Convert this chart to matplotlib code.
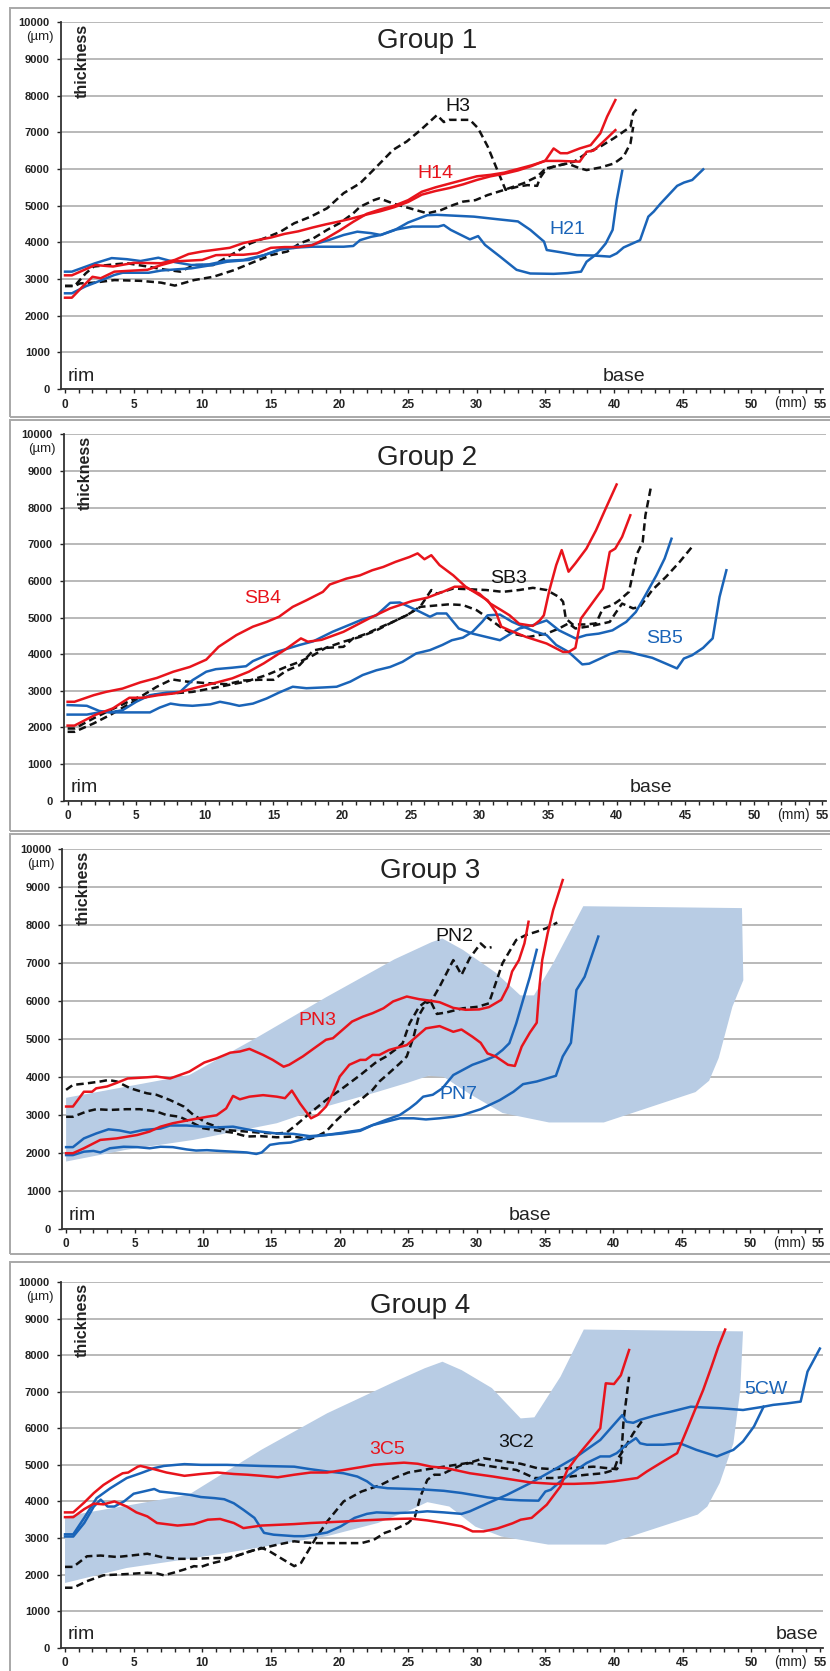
import matplotlib
matplotlib.use("Agg")
import matplotlib.pyplot as plt
from matplotlib.patches import Rectangle, Polygon

plt.rcParams['font.family'] = ['Liberation Sans', 'DejaVu Sans']

W, H = 830, 1671
RED = '#e8141c'
BLUE = '#1a64b8'
BLACK = '#111111'
SHADE = '#b8cce4'
GRID = '#a6a6a6'

# ---------------- tick labels ----------------
x_ticks = [0, 5, 10, 15, 20, 25, 30, 35, 40, 45, 50, 55]
y_ticks = [0, 1000, 2000, 3000, 4000, 5000, 6000, 7000, 8000, 9000, 10000]
titles = ['Group 1', 'Group 2', 'Group 3', 'Group 4']

# ---------------- Group 1 ----------------
g1_H14_a = [(0, 3100), (0.5, 3100), (2.2, 3380), (3.5, 3340), (5, 3440), (7, 3430), (8, 3520), (9, 3680),
            (10, 3750), (11, 3800), (12, 3850), (13, 3980), (14, 4060), (15, 4130), (16, 4230), (17, 4300),
            (18, 4400), (19, 4490), (20, 4570), (21, 4660), (22, 4760), (23, 4850), (24, 4960), (25, 5100),
            (26, 5300), (27, 5400), (28, 5480), (29, 5580), (30, 5700), (31, 5800), (32, 5870), (33, 5960),
            (34, 6080), (35, 6230), (35.6, 6560), (36.1, 6430), (36.6, 6430), (37.5, 6560), (38.3, 6650),
            (39, 6970), (39.5, 7430), (40.1, 7880)]
g1_H14_b = [(0, 2490), (0.5, 2490), (1.3, 2800), (2, 3060), (2.6, 3020), (3.6, 3200), (5, 3230), (6, 3250),
            (7, 3380), (8, 3480), (9, 3500), (10, 3520), (11, 3650), (12, 3660), (13, 3660), (14, 3700),
            (15, 3850), (16, 3870), (17, 3870), (18, 3920), (19, 4100), (20, 4320), (21, 4560), (22, 4780),
            (23, 4900), (24, 5000), (25, 5150), (26, 5380), (27, 5500), (28, 5600), (29, 5700), (30, 5800),
            (31, 5840), (32, 5900), (33, 6000), (34, 6100), (35, 6220), (36, 6220), (37.5, 6200), (38, 6470),
            (38.5, 6500), (39.1, 6700), (40.1, 7060)]
g1_H3_a = [(0, 2810), (0.7, 2810), (1.5, 3150), (2.1, 3340), (3.6, 3400), (4.5, 3430), (6, 3340), (7.2, 3260),
           (8.4, 3200), (9.4, 3380), (10.8, 3380), (12.3, 3700), (13.5, 3970), (14.8, 4150), (15.7, 4290),
           (16.7, 4520), (17.9, 4700), (19.1, 4930), (20.3, 5340), (21.5, 5610), (22.7, 6060), (23.9, 6520),
           (24.9, 6750), (25.9, 7060), (27.1, 7470), (27.6, 7280), (28, 7340), (29.5, 7340), (30.1, 7110),
           (30.8, 6610), (31.4, 6060), (32.1, 5430), (33, 5520), (33.7, 5560), (34.4, 5540), (34.6, 5750),
           (35.1, 6020), (36.1, 6110), (37.1, 6200), (38, 6430), (39, 6610), (40, 6840), (41.2, 7150),
           (41.4, 7520), (41.8, 7700)]
g1_H3_b = [(0, 2810), (0.7, 2810), (1.1, 2880), (2.1, 2900), (3.6, 2970), (5.5, 2950), (7, 2900), (8, 2820),
           (9.4, 2970), (10.8, 3060), (12.3, 3240), (13.8, 3470), (15, 3650), (16.2, 3750), (17.1, 3970),
           (18.1, 4110), (19.1, 4340), (20, 4520), (21, 4790), (21.5, 4970), (22.5, 5150), (22.9, 5200),
           (23.9, 5060), (25.1, 4930), (26.4, 4790), (27.4, 4880), (28.3, 5020), (29, 5110), (29.9, 5150),
           (30.8, 5290), (32, 5430), (32.7, 5520), (33.4, 5610), (34.4, 5790), (34.9, 5970), (35.6, 6060),
           (36.6, 6150), (37.5, 6020), (38, 5970), (39, 6040), (40, 6150), (40.7, 6340), (41.2, 6700),
           (41.4, 7150)]
g1_H21_a = [(0, 3200), (0.5, 3200), (2.2, 3430), (3.4, 3570), (4.5, 3540), (5.5, 3490), (6.8, 3580), (8, 3460),
            (9.2, 3380), (10.5, 3400), (11.8, 3500), (13, 3520), (14.5, 3650), (15.7, 3800), (17, 3860),
            (18, 3880), (19, 3880), (20.3, 3880), (21, 3900), (21.5, 4060), (22.3, 4150), (23, 4200),
            (24, 4330), (25, 4540), (26.4, 4740), (27.1, 4750), (29.8, 4700), (31.5, 4630), (33, 4570),
            (33.9, 4340), (34.9, 4020), (35.1, 3790), (36.1, 3730), (37.3, 3650), (38.5, 3640), (39.7, 3610),
            (40.2, 3700), (40.7, 3860), (41.9, 4060), (42.5, 4700), (42.9, 4840), (43.4, 5060), (44.6, 5540),
            (45.1, 5630), (45.7, 5700), (46.5, 5990)]
g1_H21_b = [(0, 2610), (0.5, 2610), (1.5, 2800), (2.2, 2900), (3.6, 3110), (4.2, 3170), (5, 3170), (6.1, 3170),
            (7, 3230), (8, 3260), (9.2, 3290), (10.7, 3380), (11.8, 3470), (13.4, 3520), (14.5, 3650),
            (15.7, 3820), (16.8, 3880), (18, 3930), (19.2, 4060), (20.3, 4200), (21.3, 4290), (22.3, 4250),
            (23, 4200), (24, 4340), (25.3, 4430), (27.2, 4430), (27.6, 4470), (28.1, 4340), (29.5, 4080),
            (30.1, 4170), (30.6, 3930), (31.7, 3610), (32.9, 3250), (33.9, 3150), (35.6, 3140), (36.6, 3160),
            (37.6, 3200), (38, 3470), (38.8, 3700), (39.4, 3970), (39.9, 4340), (40.2, 5150), (40.6, 5950)]

# ---------------- Group 2 ----------------
g2_SB4_a = [(0, 2700), (0.5, 2700), (1.9, 2880), (2.8, 2970), (4, 3060), (5.3, 3230), (6.5, 3350), (7.7, 3520),
            (8.9, 3650), (10.1, 3850), (11, 4200), (12.3, 4520), (13.5, 4750), (14.5, 4880), (15.4, 5020),
            (16.4, 5290), (17.4, 5470), (18.6, 5700), (19.1, 5900), (20.3, 6060), (21.3, 6150), (22.2, 6290),
            (23, 6380), (23.9, 6520), (24.9, 6650), (25.5, 6750), (26, 6590), (26.5, 6700), (27.1, 6430),
            (28.1, 6150), (29, 5840), (30, 5610), (30.6, 5470), (31.2, 5150), (31.6, 4750), (32.2, 4650),
            (33.4, 4470), (34.9, 4290), (36.1, 4060), (36.5, 4060), (37, 4170), (37.4, 4970), (38.2, 5380),
            (39, 5790), (39.5, 6790), (39.9, 6880), (40.4, 7200), (41, 7790)]
g2_SB4_b = [(0, 2050), (0.5, 2050), (2, 2340), (3.3, 2520), (4.5, 2810), (5.5, 2810), (6.6, 2880), (7.8, 2930),
            (9.3, 3080), (10.8, 3220), (12, 3340), (13.2, 3520), (14.3, 3750), (15.8, 4110), (17, 4430),
            (17.5, 4340), (18.5, 4390), (20.1, 4610), (22, 4980), (23.5, 5250), (25.1, 5450), (26.2, 5540),
            (27.4, 5710), (28.2, 5840), (28.9, 5840), (30, 5650), (30.8, 5380), (31.6, 5200), (32.2, 5060),
            (32.9, 4830), (33.9, 4770), (34.4, 4920), (34.7, 5060), (35.1, 5740), (35.6, 6430), (36, 6840),
            (36.5, 6250), (37, 6480), (37.8, 6880), (38.5, 7380), (39.2, 7970), (40, 8630)]
g2_SB3_a = [(0, 1970), (0.5, 1970), (1.9, 2250), (3.1, 2470), (4.3, 2680), (5.5, 2880), (6.5, 3110), (7.6, 3310),
            (8.7, 3250), (10.1, 3210), (11.6, 3180), (12.8, 3280), (14, 3300), (15, 3300), (15.9, 3540),
            (16.9, 3700), (17.9, 4100), (18.8, 4170), (20.1, 4200), (20.8, 4430), (21.8, 4560), (22.7, 4720),
            (23.7, 4880), (24.7, 5060), (25.7, 5300), (26.5, 5750), (26.9, 5650), (28.1, 5790), (29.3, 5770),
            (30.5, 5750), (31.7, 5700), (32.9, 5750), (33.9, 5810), (34.9, 5750), (35.8, 5560), (36.1, 5430),
            (36.3, 4970), (36.8, 4810), (37.8, 4810), (38.5, 4840), (39, 5250), (39.7, 5340), (40.2, 5470),
            (40.9, 5700), (41.5, 6750), (41.9, 7060), (42.1, 7790), (42.5, 8560)]
g2_SB3_b = [(0, 1880), (0.5, 1880), (1.9, 2110), (3.1, 2340), (4.3, 2600), (5.3, 2790), (6.5, 2900), (7.7, 2930),
            (9.1, 2970), (10.4, 3060), (11.6, 3150), (13, 3250), (14.5, 3430), (15.9, 3650), (16.9, 3790),
            (17.9, 3970), (18.8, 4170), (20.1, 4340), (21.3, 4470), (22.5, 4650), (23.7, 4880), (24.7, 5060),
            (25.7, 5290), (26.6, 5320), (27.8, 5360), (28.8, 5340), (29.8, 5200), (30.7, 4970), (31.5, 4750),
            (32.4, 4560), (33.6, 4470), (34.9, 4560), (35.8, 4700), (36.5, 4840), (37, 4700), (38.2, 4770),
            (39.5, 4880), (39.9, 5110), (40.4, 5380), (41.2, 5250), (41.7, 5290), (42.6, 5750), (43.6, 6110),
            (44.6, 6520), (45.5, 6930)]
g2_SB5_a = [(0, 2610), (1.4, 2590), (2.3, 2450), (3.1, 2410), (4, 2470), (5, 2700), (6, 2880), (7.2, 2950),
            (8.2, 2970), (9.1, 3290), (10.1, 3520), (10.8, 3590), (12, 3630), (13, 3670), (13.5, 3810),
            (14.5, 3970), (15.4, 4080), (16.9, 4250), (17.9, 4350), (19.3, 4610), (20.6, 4810), (21.5, 4950),
            (22.5, 5060), (23.5, 5400), (24.2, 5410), (24.9, 5290), (25.7, 5150), (26.4, 5020), (26.9, 5110),
            (27.6, 5110), (28.5, 4700), (29.5, 4560), (30.5, 4470), (31.5, 4380), (31.9, 4470), (32.9, 4700),
            (33.9, 4790), (34.9, 4920), (35.8, 4650), (37, 4430), (37.8, 4520), (38.7, 4560), (39.7, 4650),
            (40.7, 4880), (41.4, 5150), (42.1, 5610), (42.9, 6150), (43.5, 6610), (44, 7150)]
g2_SB5_b = [(0, 2350), (1.4, 2350), (2.6, 2430), (3.3, 2410), (6, 2410), (6.7, 2540), (7.5, 2650), (8.2, 2610),
            (9.1, 2590), (10.4, 2630), (11.1, 2700), (11.8, 2650), (12.5, 2590), (13.5, 2650), (14.5, 2790),
            (15.4, 2950), (16.4, 3110), (17.4, 3070), (18.6, 3090), (19.6, 3110), (20.6, 3250), (21.5, 3430),
            (22.5, 3560), (23.5, 3650), (24.4, 3790), (25.4, 4020), (26.4, 4110), (27.3, 4250), (28, 4380),
            (28.8, 4450), (29.5, 4610), (30.2, 4880), (30.6, 5060), (31.5, 5080), (32.4, 4880), (33.4, 4720),
            (34.1, 4610), (34.9, 4520), (35.6, 4250), (36.5, 4060), (37.5, 3720), (38, 3740), (38.7, 3860),
            (39.5, 4000), (40.2, 4080), (40.9, 4060), (41.6, 3990), (42.6, 3900), (43.6, 3740), (44.4, 3610),
            (44.9, 3880), (45.5, 3970), (46.3, 4170), (47, 4430), (47.5, 5560), (48, 6290)]

# ---------------- Group 3 ----------------
g3_range = [(0, 3450), (9, 4050), (10, 4250), (14, 5050), (19, 6100), (24, 7100), (26.7, 7550), (27.5, 7650),
            (29, 7350), (31.4, 6750), (33.2, 6150), (34.2, 6150), (35.6, 7000), (37.8, 8500), (49.4, 8450),
            (49.5, 6550), (48.7, 5850), (47.7, 4500), (47, 3900), (46, 3600), (39.3, 2800), (35.3, 2800),
            (31.9, 3050), (29.5, 3550), (27.6, 4000), (26.5, 4030), (25, 3850), (22.7, 3600), (19, 3220),
            (15.4, 2780), (12.9, 2600), (9.3, 2340), (4.4, 2080), (0, 1770)]
g3_PN3_a = [(0, 3220), (0.5, 3220), (1.3, 3610), (1.9, 3610), (2.2, 3700), (3, 3750), (3.6, 3830), (4.5, 3960),
            (5.9, 3990), (6.6, 4010), (7.6, 3960), (9, 4140), (10.1, 4380), (11, 4490), (12, 4640), (12.7, 4670),
            (13.4, 4740), (14.4, 4580), (15.1, 4450), (15.9, 4270), (16.3, 4320), (17.3, 4540), (18.3, 4800),
            (19, 4980), (19.5, 5020), (20.2, 5240), (20.9, 5460), (21.7, 5590), (22.4, 5680), (23.2, 5810),
            (23.9, 5990), (24.9, 6120), (25.8, 6050), (26.6, 6010), (27.3, 5970), (28.3, 5820), (29.2, 5770),
            (30.2, 5780), (30.9, 5840), (31.8, 6030), (32.3, 6380), (32.6, 6780), (33.1, 7080), (33.5, 7520),
            (33.8, 8090)]
g3_PN3_b = [(0, 1990), (0.5, 1990), (1.3, 2120), (2.5, 2340), (3.7, 2380), (5.2, 2470), (6.1, 2560), (6.9, 2690),
            (7.8, 2780), (9.1, 2870), (10.3, 2950), (11, 2990), (11.7, 3170), (12.2, 3500), (12.7, 3410),
            (13.4, 3480), (14.4, 3520), (15.4, 3480), (16, 3440), (16.5, 3640), (17.1, 3300), (17.9, 2910),
            (18.4, 3000), (19, 3220), (19.5, 3570), (20, 4010), (20.7, 4320), (21.5, 4450), (21.9, 4450),
            (22.4, 4580), (22.9, 4580), (23.6, 4710), (24.1, 4760), (24.9, 4840), (25.6, 5060), (26.3, 5280),
            (27.3, 5340), (28.3, 5190), (28.9, 5250), (29.7, 5060), (30.3, 4900), (30.8, 4620), (31.4, 4540),
            (32.3, 4320), (32.8, 4290), (33.3, 4800), (33.9, 5170), (34.4, 5430), (34.6, 6380), (34.8, 7080),
            (35.2, 7790), (35.6, 8400), (36.3, 9190)]
g3_PN2_a = [(0, 3660), (0.5, 3790), (1.5, 3830), (2.5, 3880), (3.1, 3920), (3.7, 3880), (4.7, 3700), (5.9, 3570),
            (6.6, 3530), (7.6, 3390), (8.6, 3220), (9.3, 3000), (10.3, 2780), (11.7, 2600), (13.2, 2560),
            (14.2, 2530), (15.4, 2510), (16.1, 2530), (16.8, 2730), (17.8, 3040), (19, 3390), (20.2, 3700),
            (21.5, 4050), (22.7, 4400), (23.4, 4540), (24.1, 4730), (24.6, 4890), (25.1, 5410), (25.8, 5850),
            (26.3, 5990), (26.7, 5950), (27.1, 5660), (27.8, 5700), (29, 5810), (30.1, 5850), (30.9, 5940),
            (31.9, 7000), (32.9, 7610), (33.6, 7740), (34.4, 7830), (35.1, 7920), (35.9, 8070)]
g3_PN2_b = [(0, 2950), (0.5, 2950), (1.5, 3090), (2.2, 3150), (3.2, 3130), (4.4, 3150), (5.4, 3150), (6.6, 3090),
            (7.3, 3000), (8.3, 2950), (9.3, 2780), (10, 2650), (11, 2590), (12.2, 2530), (13.2, 2430),
            (14.2, 2440), (15.4, 2410), (16.6, 2430), (17.8, 2360), (18.3, 2430), (19, 2560), (19.8, 2870),
            (20.7, 3170), (21.5, 3390), (22.4, 3660), (22.9, 3880), (23.6, 4100), (24.4, 4360), (24.9, 4540),
            (25.4, 5060), (25.8, 5630), (26.3, 5940), (26.7, 6000), (27.3, 6380), (28.3, 7080), (28.9, 6690),
            (29.5, 7130), (30.3, 7520), (30.7, 7390), (31.1, 7420)]
g3_PN7_a = [(0, 2150), (0.5, 2150), (1.3, 2380), (2.2, 2510), (3.1, 2620), (3.9, 2590), (4.7, 2530), (5.6, 2600),
            (6.9, 2640), (7.6, 2720), (8.8, 2720), (10, 2690), (11, 2670), (12.2, 2690), (13.2, 2620),
            (14.2, 2560), (15.4, 2510), (16.6, 2500), (17.8, 2440), (19, 2470), (20.2, 2510), (21.5, 2580),
            (22.4, 2730), (23.4, 2870), (24.4, 3000), (25.1, 3170), (25.6, 3310), (26.1, 3480), (26.8, 3530),
            (27.5, 3700), (28.3, 4050), (29.7, 4320), (30.7, 4450), (31.3, 4540), (31.9, 4710), (32.4, 4890),
            (32.9, 5410), (33.4, 6030), (33.9, 6640), (34.4, 7350)]
g3_PN7_b = [(0, 1940), (0.5, 1940), (1.3, 2030), (2, 2050), (2.5, 2010), (3.2, 2120), (4.2, 2160), (5.2, 2150),
            (6.1, 2120), (6.9, 2160), (7.8, 2150), (8.8, 2090), (9.5, 2060), (10.3, 2070), (11.2, 2050),
            (12.2, 2030), (13.2, 2010), (13.9, 1970), (14.3, 2010), (14.9, 2210), (15.6, 2250), (16.4, 2270),
            (17.1, 2340), (18.1, 2430), (19, 2470), (20.2, 2530), (21.5, 2600), (22.4, 2730), (23.4, 2820),
            (24.4, 2910), (25.4, 2910), (26.3, 2880), (27.3, 2910), (28.3, 2950), (29, 3000), (30.3, 3150),
            (31.7, 3390), (32.7, 3610), (33.4, 3810), (34.4, 3880), (35.8, 4030), (36.3, 4540), (36.9, 4900),
            (37.3, 6290), (37.9, 6640), (38.9, 7700)]

# ---------------- Group 4 ----------------
g4_range = [(0, 3590), (9, 4180), (14.3, 5410), (19.1, 6410), (24, 7270), (26.2, 7640), (27.5, 7820),
            (28.9, 7590), (31.1, 7100), (33.2, 6270), (34.2, 6300), (36.1, 7410), (37.8, 8700), (49.4, 8650),
            (49.2, 7050), (48.7, 5590), (47.7, 4500), (46.8, 3860), (46.1, 3640), (39.4, 2820), (35.2, 2820),
            (31.8, 3040), (29.9, 3310), (28, 3860), (26.4, 3980), (25.2, 3770), (22.8, 3410), (19.1, 3050),
            (14.3, 2750), (9.4, 2450), (4.5, 2180), (0, 1770)]
g4_3C5_a = [(0, 3700), (0.6, 3700), (1.4, 3970), (2.1, 4230), (2.8, 4450), (3.6, 4640), (4.2, 4770), (4.6, 4790),
            (5.3, 4950), (5.5, 4970), (6.5, 4880), (7.4, 4790), (8.7, 4700), (9.9, 4750), (11.1, 4790),
            (12.3, 4750), (13.3, 4730), (14.3, 4700), (15.5, 4660), (16.7, 4730), (17.9, 4790), (19.1, 4790),
            (20.3, 4860), (21.6, 4940), (22.5, 5000), (23.5, 5030), (24.7, 5060), (25.7, 5030), (26.7, 4950),
            (27.8, 4910), (29.5, 4770), (31.2, 4680), (32.7, 4590), (33.9, 4520), (35.6, 4480), (37.1, 4480),
            (38.5, 4500), (40, 4550), (41.7, 4640), (42.4, 4820), (43.4, 5050), (44.6, 5320), (45.3, 5950),
            (45.8, 6410), (46.5, 7050), (47.1, 7680), (47.6, 8230), (48.1, 8700)]
g4_3C5_b = [(0, 3570), (0.6, 3570), (1.4, 3790), (2.1, 3940), (2.8, 3920), (3.6, 4000), (4.5, 3860), (5.2, 3700),
            (6, 3590), (6.7, 3410), (8.2, 3340), (9.4, 3380), (10.4, 3500), (11.3, 3520), (12.3, 3410),
            (13, 3270), (14.3, 3340), (15.5, 3360), (16.7, 3380), (17.9, 3410), (19.1, 3430), (20.3, 3450),
            (21.6, 3480), (22.8, 3500), (24, 3520), (25.2, 3530), (26.4, 3480), (27.6, 3410), (28.9, 3320),
            (29.7, 3180), (30.5, 3180), (31.5, 3260), (32.6, 3400), (33.2, 3500), (34, 3550), (35.1, 3910),
            (36.1, 4410), (36.6, 4860), (37.5, 5320), (38.3, 5680), (39, 6000), (39.4, 7230), (40, 7210),
            (40.5, 7450), (41.1, 8140)]
g4_3C2_a = [(0, 2210), (0.6, 2210), (1.6, 2500), (2.6, 2520), (3.8, 2480), (4.8, 2520), (6, 2570), (7, 2480),
            (8.2, 2430), (9.4, 2430), (10.6, 2450), (11.8, 2450), (12.8, 2550), (14.3, 2730), (14.8, 2660),
            (15.5, 2500), (16.7, 2230), (17.2, 2320), (18.2, 2950), (19.1, 3450), (20.3, 4000), (21.6, 4270),
            (23, 4450), (24, 4640), (25, 4790), (26.4, 4880), (27.6, 4950), (29.5, 5060), (30.5, 5180),
            (32, 5090), (33.2, 5030), (34.4, 4910), (35.6, 4880), (36.8, 4910), (38.5, 4950), (39.5, 4910),
            (40.2, 4880), (40.5, 5050), (40.7, 6230), (41.1, 7410)]
g4_3C2_b = [(0, 1640), (0.6, 1640), (1.6, 1820), (2.8, 1980), (3.8, 2000), (4.8, 2020), (6, 2050), (6.7, 2030),
            (7.2, 1980), (7.9, 2050), (8.7, 2140), (9.4, 2230), (9.9, 2210), (10.6, 2300), (11.6, 2390),
            (12.6, 2520), (13.5, 2640), (14.5, 2730), (15.5, 2820), (16.7, 2910), (17.4, 2880), (18.2, 2860),
            (19.1, 2860), (20.3, 2860), (21.6, 2860), (22.5, 2950), (23.3, 3140), (24, 3230), (25, 3410),
            (25.5, 3590), (25.9, 4140), (26.4, 4590), (26.9, 4730), (27.4, 4730), (28.1, 4860), (28.9, 5000),
            (29.5, 5050), (31.2, 4950), (32.9, 4860), (34.2, 4640), (35.6, 4640), (36.8, 4680), (38, 4730),
            (39.2, 4770), (40, 4860), (40.3, 5180), (40.7, 5410), (41.4, 5860), (42.1, 6230)]
g4_5CW_a = [(0, 3100), (0.6, 3100), (1.4, 3550), (2.3, 4090), (3.3, 4360), (4.5, 4640), (5.5, 4770), (6.5, 4910),
            (7.2, 4970), (8.7, 5020), (9.9, 5000), (11.8, 5000), (14.3, 4970), (16.7, 4950), (17.9, 4880),
            (19.1, 4820), (20.3, 4770), (21.3, 4680), (22, 4550), (22.5, 4410), (23.5, 4360), (25.2, 4340),
            (26.4, 4320), (27.6, 4290), (28.9, 4230), (30.8, 4110), (32.2, 4050), (33.2, 4030), (34.5, 4020),
            (35, 4270), (35.4, 4320), (36.1, 4550), (37.1, 4820), (38, 5050), (39, 5230), (39.7, 5230),
            (40.2, 5320), (40.9, 5550), (41.6, 5730), (41.9, 5590), (42.4, 5550), (43.6, 5550), (44.8, 5590),
            (46, 5410), (47.5, 5230), (48.7, 5410), (49.4, 5640), (50.2, 6050), (50.9, 6590)]
g4_5CW_b = [(0, 3040), (0.6, 3040), (1.4, 3410), (2.1, 3860), (2.6, 4050), (3.1, 3860), (3.6, 3860), (4.3, 4000),
            (5, 4210), (5.7, 4270), (6.5, 4340), (6.9, 4270), (7.9, 4230), (9.1, 4180), (9.9, 4120), (10.9, 4090),
            (11.6, 4060), (12.3, 3950), (13, 3770), (13.8, 3550), (14.5, 3140), (15.2, 3090), (16.7, 3050),
            (17.4, 3050), (18.2, 3090), (19.1, 3150), (20.1, 3320), (21.1, 3550), (22, 3660), (22.7, 3700),
            (24, 3680), (25.5, 3700), (26.4, 3730), (27.6, 3700), (28.9, 3660), (29.5, 3730), (30.8, 3950),
            (32.2, 4180), (33.9, 4500), (35.6, 4860), (37.3, 5230), (39, 5680), (40.6, 6360), (40.9, 6180),
            (41.4, 6150), (41.9, 6230), (42.9, 6340), (44.1, 6450), (45.6, 6590), (46.5, 6570), (47.7, 6550),
            (49.4, 6500), (50.9, 6590), (51.6, 6640), (52.6, 6680), (53.6, 6730), (54.1, 7550), (55, 8180)]

# ---------------- layout (pixels) ----------------
panels = [
    dict(axes=(60.9, 22.3, 762.4, 366.7), frame=(8, 417),
         lines=[(g1_H3_a, BLACK, True), (g1_H3_b, BLACK, True), (g1_H21_a, BLUE, False),
                (g1_H21_b, BLUE, False), (g1_H14_a, RED, False), (g1_H14_b, RED, False)],
         shade=None,
         labels=[('H3', 28.6, 7700, BLACK), ('H14', 27.0, 5880, RED), ('H21', 36.6, 4340, BLUE)],
         title_xy=(26.4, 9290), base_x=40.7),
    dict(axes=(63.5, 434.3, 762.4, 366.4), frame=(420, 831),
         lines=[(g2_SB3_a, BLACK, True), (g2_SB3_b, BLACK, True), (g2_SB5_a, BLUE, False),
                (g2_SB5_b, BLUE, False), (g2_SB4_a, RED, False), (g2_SB4_b, RED, False)],
         shade=None,
         labels=[('SB4', 14.2, 5520, RED), ('SB3', 32.1, 6060, BLACK), ('SB5', 43.5, 4430, BLUE)],
         title_xy=(26.2, 9160), base_x=42.5),
    dict(axes=(62.0, 849.3, 760.0, 379.4), frame=(834, 1254),
         lines=[(g3_PN2_a, BLACK, True), (g3_PN2_b, BLACK, True), (g3_PN7_a, BLUE, False),
                (g3_PN7_b, BLUE, False), (g3_PN3_a, RED, False), (g3_PN3_b, RED, False)],
         shade=g3_range,
         labels=[('PN2', 28.4, 7700, BLACK), ('PN3', 18.4, 5500, RED), ('PN7', 28.7, 3530, BLUE)],
         title_xy=(26.6, 9235), base_x=33.9),
    dict(axes=(60.9, 1282.0, 762.4, 365.7), frame=(1262, 1690),
         lines=[(g4_3C2_a, BLACK, True), (g4_3C2_b, BLACK, True), (g4_5CW_a, BLUE, False),
                (g4_5CW_b, BLUE, False), (g4_3C5_a, RED, False), (g4_3C5_b, RED, False)],
         shade=g4_range,
         labels=[('3C5', 23.5, 5410, RED), ('3C2', 32.9, 5610, BLACK), ('5CW', 51.1, 7050, BLUE)],
         title_xy=(25.9, 9160), base_x=53.3),
]

fig = plt.figure(figsize=(W / 100, H / 100), dpi=100)
fig.patch.set_facecolor('white')

for i, p in enumerate(panels):
    top_f, bot_f = p['frame']
    fig.add_artist(Rectangle((10 / W, (H - bot_f) / H), 840 / W, (bot_f - top_f) / H,
                             transform=fig.transFigure, fill=False, ec='#a8a8a8', lw=1.4, zorder=0))

    l, t, w, h = p['axes']
    ax = fig.add_axes([l / W, (H - t - h) / H, w / W, h / H])
    ax.set_facecolor('none')
    ax.set_xlim(-0.3, 55.25)
    ax.set_ylim(0, 10000)

    if p['shade'] is not None:
        ax.add_patch(Polygon(p['shade'], closed=True, fc=SHADE, ec='none', zorder=1))

    for series, color, dashed in p['lines']:
        xs = [a for a, b in series]
        ys = [b for a, b in series]
        ax.plot(xs, ys, color=color, lw=1.8, ls=(0, (3.0, 1.7)) if dashed else '-',
                zorder=3, solid_joinstyle='round', dash_joinstyle='round', clip_on=False)

    ax.set_yticks(y_ticks)
    ax.set_yticklabels([str(v) for v in y_ticks], fontweight='bold', fontsize=8)
    ax.set_xticks(x_ticks)
    ax.set_xticklabels([str(v) for v in x_ticks], fontweight='bold', fontsize=8.5)
    ax.set_xticks(range(0, 56), minor=True)
    ax.grid(axis='y', color=GRID, lw=1.1, zorder=0)
    ax.set_axisbelow(True)
    for sp in ('top', 'right'):
        ax.spines[sp].set_visible(False)
    for sp in ('left', 'bottom'):
        ax.spines[sp].set_color('#333333')
        ax.spines[sp].set_linewidth(1.3)
    ax.tick_params(axis='y', length=3, width=1, pad=5, colors='#222222')
    ax.tick_params(axis='x', which='both', direction='out', length=3, width=1, pad=4, colors='#222222')

    # texts
    ax.text(p['title_xy'][0], p['title_xy'][1], titles[i], ha='center', va='baseline',
            fontsize=20, color='#222222', zorder=5)
    ax.text(1.27, 9970, 'thickness', rotation=90, ha='center', va='top', fontsize=11.5,
            fontweight='bold', color='#222222', zorder=5)
    ax.text(-1.85, 9600, '(µm)', ha='center', va='center', fontsize=9.5, color='#222222',
            clip_on=False)
    ax.text(52.85, -390, '(mm)', ha='center', va='center', fontsize=10, color='#222222',
            clip_on=False)
    ax.text(0.2, 230, 'rim', ha='left', va='baseline', fontsize=14, color='#222222', zorder=5)
    ax.text(p['base_x'], 230, 'base', ha='center', va='baseline', fontsize=14, color='#222222',
            zorder=5)
    for txt, x, y, c in p['labels']:
        ax.text(x, y, txt, ha='center', va='center', fontsize=14, color=c, zorder=5)

fig.savefig('out.png', dpi=100, facecolor='white')
